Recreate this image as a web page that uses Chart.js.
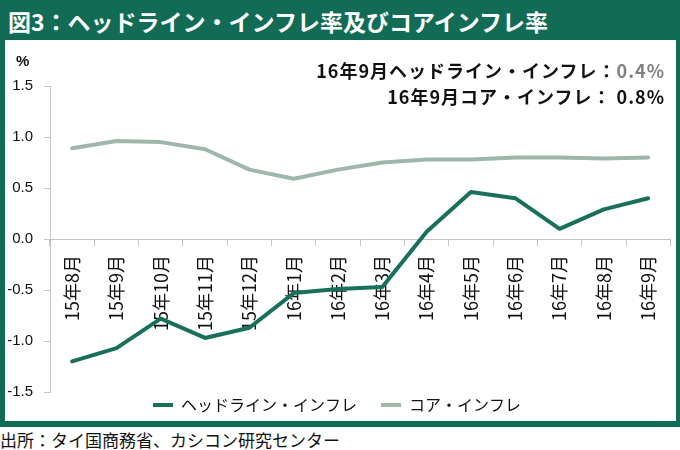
<!DOCTYPE html>
<html><head><meta charset="utf-8">
<script src="https://cdn.jsdelivr.net/npm/chart.js@4"></script>
<style>
html,body{margin:0;padding:0;width:680px;height:450px;background:#fff;overflow:hidden;font-family:"Noto Sans CJK JP",sans-serif;}
#frame{position:absolute;left:0;top:0;width:680px;height:427px;background:#116B55;}
#inner{position:absolute;left:5px;top:40px;width:671px;height:381px;background:#fff;}
#title{position:absolute;left:8px;top:0;height:40px;line-height:42px;color:#fff;font-weight:bold;font-size:23px;white-space:nowrap;}
#src{position:absolute;left:0;top:429px;font-size:17px;line-height:22px;color:#111;white-space:nowrap;}
#note{position:absolute;right:15px;top:57px;text-align:right;font-weight:bold;font-size:18px;line-height:26px;color:#111;letter-spacing:1px;white-space:nowrap;}
#note .g{color:#808080;}
#pct{position:absolute;left:16px;top:52px;font-size:15px;font-weight:bold;color:#111;font-family:"Liberation Sans",sans-serif;}
#wrap{position:absolute;left:0;top:0;width:680px;height:450px;}
</style></head>
<body>
<div id="frame"></div>
<div id="inner"></div>
<div id="title">図3：ヘッドライン・インフレ率及びコアインフレ率</div>
<div id="src">出所：タイ国商務省、カシコン研究センター</div>
<div id="wrap"><canvas id="c" width="680" height="450"></canvas></div>
<div id="pct">%</div>
<div id="note">16年9月ヘッドライン・インフレ：<span class="g">0.4%</span><br>16年9月コア・インフレ： 0.8%</div>
<script>
const categories = ['15年8月','15年9月','15年10月','15年11月','15年12月','16年1月','16年2月','16年3月','16年4月','16年5月','16年6月','16年7月','16年8月','16年9月'];
const headline = [-1.20,-1.07,-0.78,-0.97,-0.87,-0.53,-0.49,-0.47,0.07,0.46,0.40,0.10,0.29,0.40];
const core = [0.89,0.96,0.95,0.88,0.68,0.59,0.68,0.75,0.78,0.78,0.80,0.80,0.79,0.80];
const yTicks = [-1.5,-1.0,-0.5,0.0,0.5,1.0,1.5];
const seriesNames = ['ヘッドライン・インフレ','コア・インフレ'];
const colors = ['#19705A','#9DB8AB'];

const jp = '"Noto Sans CJK JP", sans-serif';
const legendShift = {
  id:'legendShift',
  afterLayout(chart){ if(chart.legend){ chart.legend.top -= 19; chart.legend.bottom -= 19; } }
};

new Chart(document.getElementById('c'), {
  type:'line',
  data:{
    labels:categories,
    datasets:[
      {label:seriesNames[0], data:headline, borderColor:colors[0], backgroundColor:colors[0], borderWidth:4, pointRadius:0, tension:0, borderJoinStyle:'round', borderCapStyle:'round'},
      {label:seriesNames[1], data:core, borderColor:colors[1], backgroundColor:colors[1], borderWidth:4, pointRadius:0, tension:0, borderJoinStyle:'round', borderCapStyle:'round'}
    ]
  },
  options:{
    responsive:false, animation:false,
    layout:{padding:{top:86,left:0,right:6,bottom:8}},
    plugins:{
      tooltip:{enabled:false},
      title:{display:false},
      legend:{
        position:'bottom',
        labels:{
          boxWidth:20, boxHeight:4, padding:24, color:'#111',
          font:{size:16, family:jp},
          generateLabels(chart){
            return Chart.defaults.plugins.legend.labels.generateLabels(chart).map(l=>Object.assign(l,{lineWidth:0, fillStyle:l.strokeStyle}));
          }
        }
      }
    },
    scales:{
      x:{
        position:{y:0}, offset:true,
        grid:{display:true, offset:true, drawOnChartArea:false, drawTicks:true, tickLength:6, color:'#C4C4C4'},
        border:{display:true, color:'#C4C4C4', width:1},
        ticks:{minRotation:90, maxRotation:90, autoSkip:false, padding:10, color:'#111', font:{size:18, family:jp}},
        afterFit(s){ s.height = 0; }
      },
      y:{
        min:-1.5, max:1.5,
        afterBuildTicks(s){ s.ticks = yTicks.map(v=>({value:v})); },
        grid:{drawOnChartArea:false, drawTicks:true, tickLength:6, color:'#C4C4C4'},
        border:{display:true, color:'#C4C4C4', width:1},
        ticks:{padding:11, color:'#111', font:{size:15, family:'"Liberation Sans", sans-serif'}, callback:v=>Number(v).toFixed(1)},
        afterFit(s){ s.width = 50; }
      }
    }
  },
  plugins:[legendShift]
});
</script>
</body></html>
